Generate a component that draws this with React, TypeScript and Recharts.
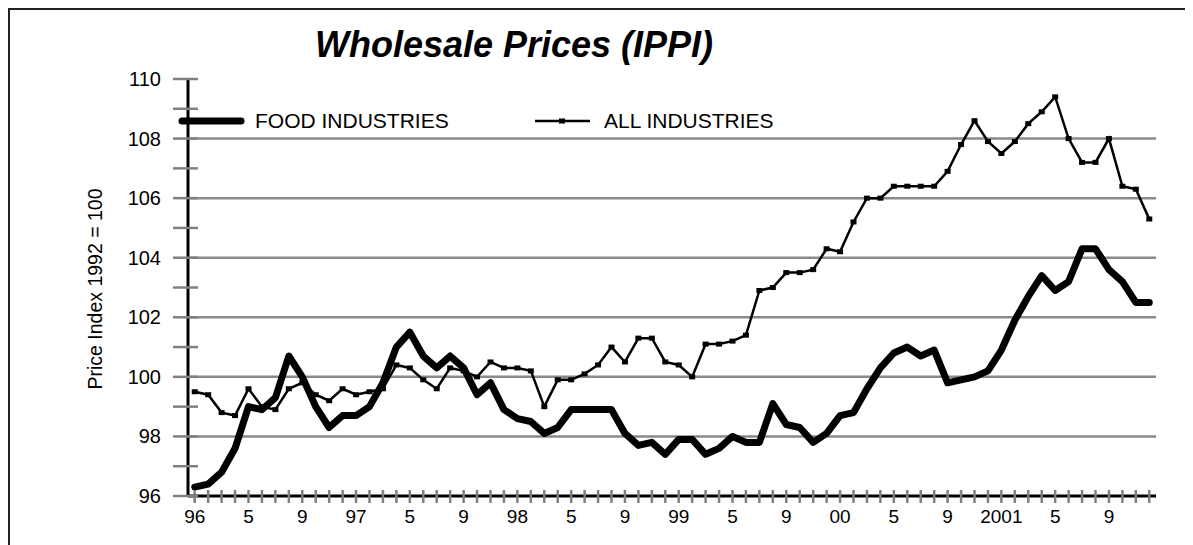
import React from 'react';
import { LineChart, Line, XAxis, YAxis, ReferenceLine, Legend } from 'recharts';

// ---- data ----
const years = [1996, 1997, 1998, 1999, 2000, 2001];
const yearLabels = ['96', '97', '98', '99', '00', '2001'];
const monthLabels: Record<number, string> = { 5: '5', 9: '9' };

const foodIndustries = [
  96.3, 96.4, 96.8, 97.6, 99.0, 98.9, 99.3, 100.7, 100.0, 99.0, 98.3, 98.7,
  98.7, 99.0, 99.8, 101.0, 101.5, 100.7, 100.3, 100.7, 100.3, 99.4, 99.8, 98.9,
  98.6, 98.5, 98.1, 98.3, 98.9, 98.9, 98.9, 98.9, 98.1, 97.7, 97.8, 97.4,
  97.9, 97.9, 97.4, 97.6, 98.0, 97.8, 97.8, 99.1, 98.4, 98.3, 97.8, 98.1,
  98.7, 98.8, 99.6, 100.3, 100.8, 101.0, 100.7, 100.9, 99.8, 99.9, 100.0, 100.2,
  100.9, 101.9, 102.7, 103.4, 102.9, 103.2, 104.3, 104.3, 103.6, 103.2, 102.5, 102.5,
];

const allIndustries = [
  99.5, 99.4, 98.8, 98.7, 99.6, 99.0, 98.9, 99.6, 99.8, 99.4, 99.2, 99.6,
  99.4, 99.5, 99.6, 100.4, 100.3, 99.9, 99.6, 100.3, 100.2, 100.0, 100.5, 100.3,
  100.3, 100.2, 99.0, 99.9, 99.9, 100.1, 100.4, 101.0, 100.5, 101.3, 101.3, 100.5,
  100.4, 100.0, 101.1, 101.1, 101.2, 101.4, 102.9, 103.0, 103.5, 103.5, 103.6, 104.3,
  104.2, 105.2, 106.0, 106.0, 106.4, 106.4, 106.4, 106.4, 106.9, 107.8, 108.6, 107.9,
  107.5, 107.9, 108.5, 108.9, 109.4, 108.0, 107.2, 107.2, 108.0, 106.4, 106.3, 105.3,
];

const yTicks = [96, 97, 98, 99, 100, 101, 102, 103, 104, 105, 106, 107, 108, 109, 110];
const gridValues = [98, 100, 102, 104, 106, 108];

const months: string[] = [];
years.forEach((y) => {
  for (let m = 1; m <= 12; m++) months.push(`${y}-${m}`);
});

const data = months.map((month, i) => ({
  month,
  food: foodIndustries[i],
  all: allIndustries[i],
}));

const labelFor = (month: string) => {
  const [y, m] = month.split('-').map(Number);
  if (m === 1) return yearLabels[years.indexOf(y)];
  return monthLabels[m] ?? '';
};

const FONT = '"Liberation Sans", Arial, sans-serif';

const XTick = (props: any) => {
  const { x, y, payload } = props;
  const label = labelFor(String(payload.value));
  return (
    <g>
      <line x1={x} x2={x} y1={y - 6} y2={y + 7} stroke="#808080" strokeWidth={2.5} />
      {label && (
        <text x={x} y={y + 27} textAnchor="middle" fontSize={19} fill="#000" fontFamily={FONT}>
          {label}
        </text>
      )}
    </g>
  );
};

const YTick = (props: any) => {
  const { x, y, payload } = props;
  const v = Number(payload.value);
  return (
    <g>
      <line x1={x - 15} x2={x + 10} y1={y} y2={y} stroke="#808080" strokeWidth={2.5} />
      {v % 2 === 0 && (
        <text x={x - 27} y={y} dy={7} textAnchor="end" fontSize={20} fill="#000" fontFamily={FONT}>
          {v}
        </text>
      )}
    </g>
  );
};

const SquareDot = (props: any) => {
  const { cx, cy, index } = props;
  if (cx == null || cy == null) return <g key={`d${index}`} />;
  return <rect key={`d${index}`} x={cx - 3} y={cy - 2.5} width={6} height={5} fill="#000" />;
};

const LegendContent = () => (
  <svg width={700} height={30} style={{ display: 'block' }}>
    <line x1={7} y1={15} x2={66} y2={15} stroke="#000" strokeWidth={7} strokeLinecap="round" />
    <text x={80} y={22} fontSize={21} fill="#000" fontFamily={FONT}>FOOD INDUSTRIES</text>
    <line x1={360} y1={15} x2={415} y2={15} stroke="#000" strokeWidth={2.5} />
    <rect x={384} y={12.5} width={6} height={5} fill="#000" />
    <text x={429} y={22} fontSize={21} fill="#000" fontFamily={FONT}>ALL INDUSTRIES</text>
  </svg>
);

export default function App() {
  return (
    <div style={{ position: 'relative', width: 1185, height: 537, fontFamily: FONT }}>
      <div
        style={{
          position: 'absolute', left: 0, top: 0, width: 1185, height: 537,
          borderTop: '2px solid #222', borderLeft: '2px solid #222', boxSizing: 'border-box',
        }}
      />
      <div
        style={{
          position: 'absolute', left: 0, width: 1012, top: 19, textAlign: 'center',
          fontSize: 36, lineHeight: '36px', fontWeight: 'bold', fontStyle: 'italic', color: '#000',
        }}
      >
        Wholesale Prices (IPPI)
      </div>
      <div style={{ position: 'absolute', left: 0, top: 0 }}>
        <LineChart width={1185} height={537} data={data} margin={{ top: 71, right: 37, bottom: 19, left: 0 }}>
          {gridValues.map((v) => (
            <ReferenceLine key={v} y={v} stroke="#8a8a8a" strokeWidth={2.5} />
          ))}
          <XAxis
            dataKey="month"
            scale="band"
            interval={0}
            height={30}
            tickSize={0}
            tickMargin={0}
            tickLine={false}
            tick={<XTick />}
            axisLine={{ stroke: '#000', strokeWidth: 3 }}
          />
          <XAxis
            xAxisId="top"
            orientation="top"
            dataKey="month"
            scale="band"
            height={0}
            tick={false}
            tickLine={false}
            axisLine={{ stroke: '#000', strokeWidth: 2 }}
          />
          <YAxis
            domain={[96, 110]}
            ticks={yTicks}
            interval={0}
            width={180}
            tickSize={0}
            tickMargin={0}
            tickLine={false}
            tick={<YTick />}
            axisLine={{ stroke: '#000', strokeWidth: 3 }}
            label={{
              content: () => (
                <text
                  x={87}
                  y={281}
                  transform="rotate(-90 87 281)"
                  textAnchor="middle"
                  dominantBaseline="central"
                  fontSize={19.5}
                  fill="#000"
                  fontFamily={FONT}
                >
                  Price Index 1992 = 100
                </text>
              ),
            }}
          />
          <YAxis
            yAxisId="right"
            orientation="right"
            domain={[96, 110]}
            width={0}
            tick={false}
            tickLine={false}
            axisLine={{ stroke: '#000', strokeWidth: 2 }}
          />
          <Legend
            layout="vertical"
            align="center"
            verticalAlign="middle"
            content={<LegendContent />}
            wrapperStyle={{ position: 'absolute', left: 167, top: 98, width: 700, height: 30, margin: 0, padding: 0 }}
          />
          <Line
            type="linear"
            dataKey="food"
            name="FOOD INDUSTRIES"
            stroke="#000"
            strokeWidth={7}
            strokeLinejoin="round"
            strokeLinecap="round"
            dot={false}
            activeDot={false}
            isAnimationActive={false}
          />
          <Line
            type="linear"
            dataKey="all"
            name="ALL INDUSTRIES"
            stroke="#000"
            strokeWidth={2.5}
            dot={<SquareDot />}
            activeDot={false}
            isAnimationActive={false}
          />
        </LineChart>
      </div>
    </div>
  );
}
